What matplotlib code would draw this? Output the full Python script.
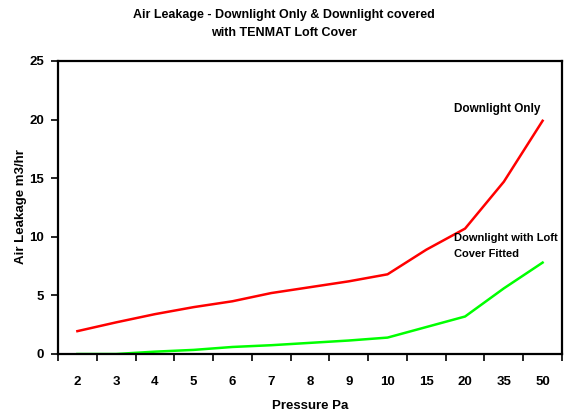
import matplotlib
matplotlib.use("Agg")
import matplotlib.pyplot as plt
import numpy as np

categories = ["2", "3", "4", "5", "6", "7", "8", "9", "10", "15", "20", "35", "50"]
downlight_only = [1.95, 2.7, 3.4, 4.0, 4.5, 5.2, 5.7, 6.2, 6.8, 8.9, 10.7, 14.7, 19.9]
downlight_cover = [0.0, 0.0, 0.2, 0.35, 0.6, 0.75, 0.95, 1.15, 1.4, 2.3, 3.2, 5.6, 7.8]

plt.rcParams['font.family'] = ['Liberation Sans', 'DejaVu Sans']
plt.rcParams['font.weight'] = 'bold'

W, H = 568, 416
fig = plt.figure(figsize=(W/100, H/100), dpi=100)
ax = fig.add_axes([58/W, 1-354/H, (562-58)/W, (354-61)/H])

x = np.arange(len(categories))
ax.plot(x, downlight_only, color='#ff0000', lw=1.8)
ax.plot(x, downlight_cover, color='#00ff00', lw=1.8)

ax.set_xlim(-0.5, len(categories) - 0.5)
ax.set_ylim(0, 25)
ax.set_yticks([0, 5, 10, 15, 20, 25])
ax.set_xticks(x)
ax.set_xticklabels(categories)
ax.set_xticks(np.arange(-0.5, len(categories), 1), minor=True)
ax.tick_params(axis='x', which='major', length=0, pad=16, labelsize=9.5)
ax.tick_params(axis='x', which='minor', length=5, width=1.2, direction='out')
ax.tick_params(axis='y', length=5, width=1.2, direction='out', labelsize=9.5, pad=5)
for s in ax.spines.values():
    s.set_linewidth(1.6)

fig.text(310/W, 1-406/H, "Pressure Pa", fontsize=9.5, fontweight='bold', ha='center', va='center')
fig.text(21/W, 1-207/H, "Air Leakage m3/hr", fontsize=9.5, fontweight='bold',
         ha='center', va='center', rotation=90)

fig.text(0.5, 1-24/H, "Air Leakage - Downlight Only & Downlight covered\nwith TENMAT Loft Cover",
         ha='center', va='center', fontsize=9, fontweight='bold', linespacing=1.7)

ax.text(9.72, 20.35, "Downlight Only", fontsize=8.5, fontweight='bold', ha='left', va='bottom')
ax.text(9.72, 8.1, "Downlight with Loft\nCover Fitted", fontsize=8, fontweight='bold',
        ha='left', va='bottom', linespacing=1.7, clip_on=False)

fig.savefig("out.png", dpi=100)
